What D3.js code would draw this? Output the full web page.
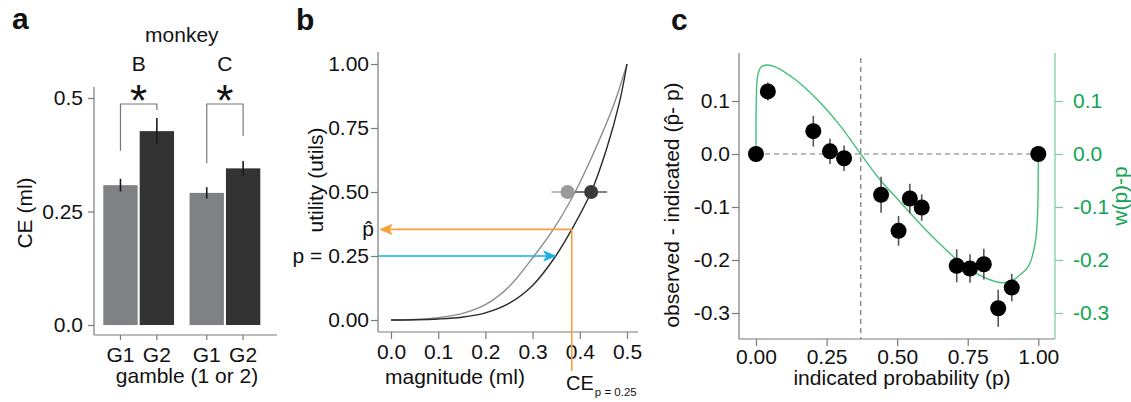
<!DOCTYPE html>
<html><head><meta charset="utf-8">
<script src="https://cdn.jsdelivr.net/npm/d3@7"></script>
<style>
body{margin:0;background:#fff;}
svg{display:block;font-family:"Liberation Sans",Arial,Helvetica,sans-serif;}
</style></head><body>
<svg id="chart" width="1131" height="402"></svg>
<script>
// ---------- Panel a data ----------
const monkeys = ["B", "C"];
const gambles = ["G1", "G2"];
const ceMonkeyB = [0.308, 0.427];
const ceMonkeyC = [0.291, 0.345];
const ceErrB = [0.014, 0.029];
const ceErrC = [0.0125, 0.0165];
const ticksA = [0, 0.25, 0.5];
const tickLabelsA = ["0.0", "0.25", "0.5"];

// ---------- Panel b data ----------
const magBlack  = [0, 0.05, 0.10, 0.15, 0.20, 0.25, 0.30, 0.349, 0.383, 0.424, 0.457, 0.484, 0.50];
const utilBlack = [0, 0.001, 0.004, 0.011, 0.028, 0.065, 0.135, 0.25, 0.354, 0.50, 0.67, 0.85, 1.0];
const magGray   = [0, 0.05, 0.10, 0.15, 0.20, 0.25, 0.303, 0.344, 0.39, 0.432, 0.473, 0.50];
const utilGray  = [0, 0.002, 0.009, 0.025, 0.06, 0.13, 0.25, 0.354, 0.50, 0.664, 0.846, 1.0];
const cePointMag  = [0.374, 0.424];   // G1 (gray), G2 (black)
const cePointUtil = [0.5, 0.5];
const cePointErr  = [0.034, 0.034];
const pIndicated = 0.25;
const pHat = 0.354;
const ceAtP = 0.383;
const blueArrowMag = 0.349;
const ticksBX = [0, 0.1, 0.2, 0.3, 0.4, 0.5];
const tickLabelsBX = ["0.0", "0.1", "0.2", "0.3", "0.4", "0.5"];
const ticksBY = [0, 0.25, 0.5, 0.75, 1];
const tickLabelsBY = ["0.00", "p = 0.25", "0.50", "0.75", "1.00"];

// ---------- Panel c data ----------
const probP    = [0, 0.042, 0.203, 0.262, 0.312, 0.443, 0.505, 0.545, 0.587, 0.711, 0.758, 0.807, 0.858, 0.906, 1.0];
const probDiff = [0, 0.118, 0.043, 0.005, -0.008, -0.077, -0.145, -0.084, -0.101, -0.211, -0.216, -0.208, -0.291, -0.252, 0];
const probErr  = [0, 0.017, 0.029, 0.024, 0.024, 0.034, 0.028, 0.028, 0.025, 0.031, 0.027, 0.029, 0.035, 0.026, 0];
const weightP    = [0, 0.001, 0.004, 0.01, 0.02, 0.04, 0.07, 0.10, 0.14, 0.20, 0.25, 0.30, 0.371, 0.44, 0.51, 0.58, 0.65, 0.72, 0.79, 0.85, 0.88, 0.91, 0.94, 0.965, 0.98, 0.99, 0.997, 0.999, 1.0];
const weightDiff = [0, 0.10, 0.14, 0.156, 0.165, 0.168, 0.164, 0.155, 0.140, 0.112, 0.084, 0.052, 0.0, -0.049, -0.090, -0.131, -0.169, -0.203, -0.228, -0.241, -0.243, -0.238, -0.226, -0.212, -0.190, -0.165, -0.12, -0.08, 0];
const crossoverP = 0.371;
const ticksCX = [0, 0.25, 0.5, 0.75, 1];
const tickLabelsCX = ["0.00", "0.25", "0.50", "0.75", "1.00"];
const ticksCY = [0.1, 0, -0.1, -0.2, -0.3];
const tickLabelsCY = ["0.1", "0.0", "-0.1", "-0.2", "-0.3"];

// ---------- styles ----------
const AX = "#7a7a7a", TXT = "#111", FS = 21;
const GRAYBAR = "#808184", DARKBAR = "#333333";
const ORANGE = "#f7a13a", BLUE = "#1aaeea";
const GREEN_LINE = "#45c07a", GREEN_TXT = "#10a552", GREEN_AX = "#7ccd9b";

const svg = d3.select("#chart");

function styleAxis(g, lineColor, textColor, fs) {
  g.select(".domain").remove();
  g.selectAll(".tick line").attr("stroke", lineColor).attr("stroke-width", 1.2);
  g.selectAll(".tick text").attr("fill", textColor).attr("font-size", fs)
    .attr("font-family", '"Liberation Sans",Arial,sans-serif');
}
function label(x, y, txt, opts = {}) {
  const t = svg.append("text").attr("x", x).attr("y", y).text(txt)
    .attr("font-size", opts.fs || FS).attr("fill", opts.fill || TXT)
    .attr("text-anchor", opts.anchor || "middle");
  if (opts.weight) t.attr("font-weight", opts.weight);
  if (opts.rotate) t.attr("transform", `rotate(${opts.rotate},${x},${y})`);
  if (opts.dy) t.attr("dy", opts.dy);
  return t;
}
function vline(x, y1, y2, color, w, dash) {
  const l = svg.append("line").attr("x1", x).attr("x2", x).attr("y1", y1).attr("y2", y2)
    .attr("stroke", color).attr("stroke-width", w || 1.2);
  if (dash) l.attr("stroke-dasharray", dash);
  return l;
}
function hline(y, x1, x2, color, w, dash) {
  const l = svg.append("line").attr("y1", y).attr("y2", y).attr("x1", x1).attr("x2", x2)
    .attr("stroke", color).attr("stroke-width", w || 1.2);
  if (dash) l.attr("stroke-dasharray", dash);
  return l;
}

// ================= Panel a =================
const yA = d3.scaleLinear().domain([0, 0.5]).range([325, 98]);
const xA = d3.scaleBand().domain(monkeys).range([103.3, 260.3]).paddingInner(0.18).paddingOuter(0);
const xAi = d3.scaleBand().domain(gambles).range([0, xA.bandwidth()]).paddingInner(0.056);
const ceA = { B: ceMonkeyB, C: ceMonkeyC };
const errA = { B: ceErrB, C: ceErrC };

label(12, 29, "a", { fs: 30, weight: "bold", anchor: "start" });

vline(94, 87, 335, AX);
hline(335, 94, 277, AX);
svg.append("g").attr("transform", "translate(94,0)")
  .call(d3.axisLeft(yA).tickValues(ticksA).tickSize(6).tickPadding(5)
    .tickFormat((d, i) => tickLabelsA[i]))
  .call(g => styleAxis(g, AX, TXT, FS));

const barData = [];
monkeys.forEach(m => gambles.forEach((gname, i) => barData.push({
  m, g: gname, v: ceA[m][i], e: errA[m][i], x: xA(m) + xAi(gname)
})));
svg.append("g").selectAll("rect").data(barData).join("rect")
  .attr("x", d => d.x).attr("width", xAi.bandwidth())
  .attr("y", d => yA(d.v)).attr("height", d => yA(0) - yA(d.v))
  .attr("fill", d => d.g === "G1" ? GRAYBAR : DARKBAR);
svg.append("g").selectAll("line").data(barData).join("line")
  .attr("x1", d => d.x + xAi.bandwidth() / 2).attr("x2", d => d.x + xAi.bandwidth() / 2)
  .attr("y1", d => yA(d.v - d.e)).attr("y2", d => yA(d.v + d.e))
  .attr("stroke", "#1a1a1a").attr("stroke-width", 1.6);

const xAxisA = svg.append("g");
barData.forEach(d => {
  const cx = d.x + xAi.bandwidth() / 2;
  xAxisA.append("line").attr("x1", cx).attr("x2", cx).attr("y1", 335).attr("y2", 340)
    .attr("stroke", AX).attr("stroke-width", 1.2);
  label(cx, 362, d.g);
});
label(187, 383, "gamble (1 or 2)");
label(25, 213, "CE (ml)", { rotate: -90, dy: "0.35em" });
label((xA.range()[0] + xA.range()[1]) / 2, 42, "monkey");

const bracketTop = yA(0.5) + 6;
const bracketGaps = { B: [28, 8], C: [24, 25] };
monkeys.forEach(m => {
  const c1 = xA(m) + xAi("G1") + xAi.bandwidth() / 2;
  const c2 = xA(m) + xAi("G2") + xAi.bandwidth() / 2;
  const yl = yA(ceA[m][0] + errA[m][0]) - bracketGaps[m][0];
  const yr = yA(ceA[m][1] + errA[m][1]) - bracketGaps[m][1];
  svg.append("path").attr("d", `M${c1},${yl}V${bracketTop}H${c2}V${yr}`)
    .attr("fill", "none").attr("stroke", "#777").attr("stroke-width", 1.2);
  const mid = xA(m) + xA.bandwidth() / 2;
  label(mid, 116, "*", { fs: 44 });
  label(mid, 71, m);
});

// ================= Panel b =================
const xB = d3.scaleLinear().domain([0, 0.5]).range([391, 627]);
const yB = d3.scaleLinear().domain([0, 1]).range([320, 64]);
label(296, 30, "b", { fs: 30, weight: "bold", anchor: "start" });

vline(378, 52, 332, AX);
hline(332, 378, 638, AX);
svg.append("g").attr("transform", "translate(378,0)")
  .call(d3.axisLeft(yB).tickValues(ticksBY).tickSize(7).tickPadding(2)
    .tickFormat((d, i) => tickLabelsBY[i]))
  .call(g => styleAxis(g, AX, TXT, FS));
svg.append("g").attr("transform", "translate(0,332)")
  .call(d3.axisBottom(xB).tickValues(ticksBX).tickSize(7).tickPadding(5)
    .tickFormat((d, i) => tickLabelsBX[i]))
  .call(g => styleAxis(g, AX, TXT, FS));
label(455, 384, "magnitude (ml)");
label(316, 180, "utility (utils)", { rotate: -90, dy: "0.35em" });
label(374, 229, "p\u0302", { anchor: "end", dy: "0.35em" });

const lineB = d3.line().x(d => xB(d[0])).y(d => yB(d[1])).curve(d3.curveCatmullRom.alpha(0.5));
svg.append("path").datum(d3.zip(magGray, utilGray)).attr("d", lineB)
  .attr("fill", "none").attr("stroke", "#8c8c8c").attr("stroke-width", 1.4);
svg.append("path").datum(d3.zip(magBlack, utilBlack)).attr("d", lineB)
  .attr("fill", "none").attr("stroke", "#2a2a2a").attr("stroke-width", 1.4);

const cx0 = xB(ceAtP), cy0 = yB(pHat);
vline(cx0, cy0, 371, ORANGE, 1.6);
hline(cy0, 388, cx0, ORANGE, 1.6);
svg.append("path")
  .attr("d", `M380,${cy0} L392,${cy0 - 5} L389,${cy0} L392,${cy0 + 5} Z`)
  .attr("fill", ORANGE).attr("stroke", ORANGE).attr("stroke-width", 0.8);
const bTip = xB(blueArrowMag), bY = yB(pIndicated);
hline(bY, 378, bTip - 8, BLUE, 1.6);
svg.append("path")
  .attr("d", `M${bTip},${bY} L${bTip - 12},${bY - 5} L${bTip - 9},${bY} L${bTip - 12},${bY + 5} Z`)
  .attr("fill", BLUE).attr("stroke", BLUE).attr("stroke-width", 0.8);

const ptColors = ["#9a9a9b", "#3a3a3a"], errColors = ["#a8a8a8", "#5a5a5a"];
[0, 1].forEach(i => {
  hline(yB(cePointUtil[i]), xB(cePointMag[i] - cePointErr[i]), xB(cePointMag[i] + cePointErr[i]), errColors[i], 1.6);
});
[0, 1].forEach(i => {
  svg.append("circle").attr("cx", xB(cePointMag[i])).attr("cy", yB(cePointUtil[i])).attr("r", 7)
    .attr("fill", ptColors[i]);
});
const ceLab = svg.append("text").attr("x", 566).attr("y", 390).attr("font-size", 20).attr("fill", TXT);
ceLab.append("tspan").text("CE");
ceLab.append("tspan").attr("font-size", 11.5).attr("dx", 1).attr("dy", 6).text("p = 0.25");

// ================= Panel c =================
const xC = d3.scaleLinear().domain([0, 1]).range([756, 1038.3]);
const yC = d3.scaleLinear().domain([-0.3, 0.1]).range([313, 101]);
label(671, 30, "c", { fs: 30, weight: "bold", anchor: "start" });

vline(739, 53, 339, AX);
hline(339, 739, 1055, AX);
vline(1055, 53, 339, GREEN_AX);
svg.append("g").attr("transform", "translate(739,0)")
  .call(d3.axisLeft(yC).tickValues(ticksCY).tickSize(7).tickPadding(2)
    .tickFormat((d, i) => tickLabelsCY[i]))
  .call(g => styleAxis(g, AX, TXT, FS));
svg.append("g").attr("transform", "translate(1055,0)")
  .call(d3.axisRight(yC).tickValues(ticksCY).tickSize(8).tickPadding(10)
    .tickFormat((d, i) => tickLabelsCY[i]))
  .call(g => styleAxis(g, GREEN_AX, GREEN_TXT, FS));
svg.append("g").attr("transform", "translate(0,339)")
  .call(d3.axisBottom(xC).tickValues(ticksCX).tickSize(7).tickPadding(3)
    .tickFormat((d, i) => tickLabelsCX[i]))
  .call(g => styleAxis(g, AX, TXT, FS));
label(902, 385, "indicated probability (p)");
label(672, 205, "observed - indicated (p\u0302- p)", { rotate: -90, dy: "0.35em" });
label(1120, 196, "w(p)-p", { rotate: -90, dy: "0.35em", fill: GREEN_TXT });

hline(yC(0), xC(0), xC(1), "#777", 1.2, "5,4");
vline(xC(crossoverP), 58, 339, "#777", 1.2, "5,4");

const lineC = d3.line().x(d => xC(d[0])).y(d => yC(d[1])).curve(d3.curveCatmullRom.alpha(0.5));
svg.append("path").datum(d3.zip(weightP, weightDiff)).attr("d", lineC)
  .attr("fill", "none").attr("stroke", GREEN_LINE).attr("stroke-width", 1.4);

const ptsC = d3.zip(probP, probDiff, probErr);
svg.append("g").selectAll("line").data(ptsC.filter(d => d[2] > 0)).join("line")
  .attr("x1", d => xC(d[0])).attr("x2", d => xC(d[0]))
  .attr("y1", d => yC(d[1] - d[2])).attr("y2", d => yC(d[1] + d[2]))
  .attr("stroke", "#555").attr("stroke-width", 1.6);
svg.append("g").selectAll("circle").data(ptsC).join("circle")
  .attr("cx", d => xC(d[0])).attr("cy", d => yC(d[1])).attr("r", 8).attr("fill", "#000");
</script>
</body></html>
